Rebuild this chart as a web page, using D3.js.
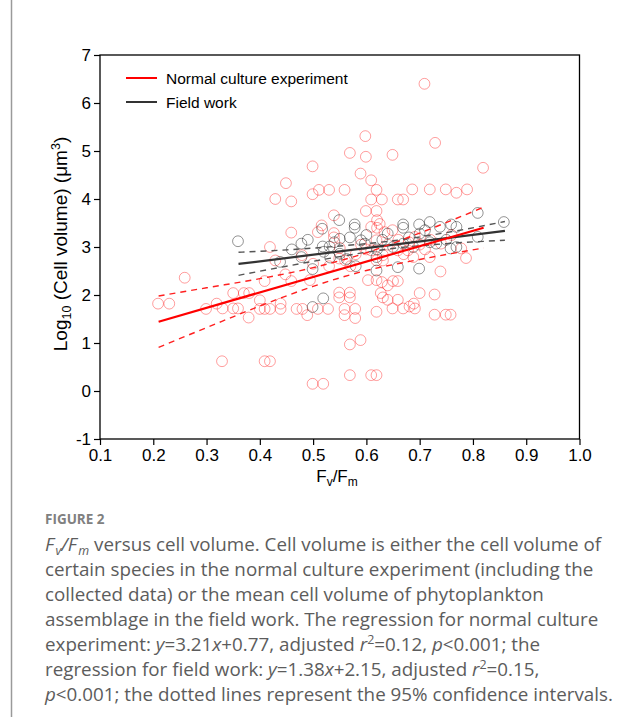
<!DOCTYPE html>
<html>
<head>
<meta charset="utf-8">
<script src="https://cdn.jsdelivr.net/npm/d3@7/dist/d3.min.js"></script>
<style>
  body { margin: 0; background: #fff; }
</style>
</head>
<body>
<div id="chart"></div>
<script>

// ########## DATA ##########

// normal culture experiment  [Fv/Fm, log10 cell volume]
var culturePoints = [
  [0.709, 6.40], [0.598, 5.31], [0.729, 5.17], [0.569, 4.96], [0.599, 4.88], [0.649, 4.92],
  [0.499, 4.68], [0.819, 4.65], [0.589, 4.53], [0.449, 4.33], [0.609, 4.39],
  [0.511, 4.19], [0.530, 4.19], [0.559, 4.19], [0.499, 4.10], [0.619, 4.19], [0.686, 4.20],
  [0.719, 4.20], [0.749, 4.20], [0.769, 4.13], [0.789, 4.20],
  [0.429, 4.00], [0.459, 3.95], [0.609, 3.99], [0.629, 3.99], [0.659, 3.99], [0.669, 3.99],
  [0.599, 3.75], [0.619, 3.75], [0.539, 3.66], [0.620, 3.56], [0.625, 3.48], [0.620, 3.40],
  [0.459, 3.30], [0.509, 3.31], [0.516, 3.45], [0.539, 3.29], [0.419, 3.00], [0.429, 2.72],
  [0.479, 2.83], [0.549, 2.76], [0.459, 2.29], [0.448, 2.43], [0.494, 2.31], [0.409, 2.29],
  [0.259, 2.36], [0.209, 1.82], [0.230, 1.82], [0.299, 1.71], [0.319, 1.82], [0.330, 1.72],
  [0.350, 2.04], [0.370, 2.04], [0.380, 2.04], [0.350, 1.72], [0.359, 1.72], [0.379, 1.53],
  [0.400, 1.89], [0.400, 1.71], [0.409, 1.71], [0.419, 1.71], [0.439, 1.82], [0.439, 1.71],
  [0.469, 1.71], [0.480, 1.71], [0.489, 1.58], [0.509, 1.71], [0.528, 1.71],
  [0.549, 2.05], [0.549, 1.95], [0.569, 2.05], [0.569, 1.95], [0.559, 1.71], [0.559, 1.58],
  [0.579, 1.71], [0.579, 1.52], [0.603, 2.31], [0.619, 2.31], [0.629, 2.27], [0.650, 2.29],
  [0.659, 2.29], [0.640, 2.20], [0.627, 2.04], [0.631, 1.95], [0.640, 1.90], [0.659, 1.90],
  [0.700, 2.04], [0.728, 2.01], [0.739, 2.49], [0.787, 2.77],
  [0.619, 1.65], [0.649, 1.72], [0.669, 1.72], [0.681, 1.76], [0.689, 1.82], [0.691, 1.72],
  [0.728, 1.59], [0.749, 1.59], [0.758, 1.59],
  [0.329, 0.62], [0.409, 0.62], [0.419, 0.62], [0.499, 0.15], [0.519, 0.15], [0.569, 0.97],
  [0.589, 1.06], [0.569, 0.33], [0.609, 0.33], [0.619, 0.33],
  [0.539, 3.20], [0.550, 2.98], [0.560, 2.72], [0.580, 2.85], [0.590, 3.05], [0.600, 2.95],
  [0.609, 2.93], [0.631, 2.83], [0.631, 2.72], [0.619, 2.72], [0.619, 3.14], [0.634, 3.31],
  [0.609, 3.42], [0.649, 3.35], [0.659, 2.93], [0.678, 2.93], [0.688, 2.79], [0.719, 2.79],
  [0.691, 3.21], [0.740, 3.07], [0.778, 2.97], [0.700, 3.05], [0.720, 3.15], [0.760, 3.25],
  [0.680, 3.10], [0.660, 3.15], [0.530, 2.60], [0.500, 2.65], [0.570, 2.60], [0.640, 3.05],
  [0.670, 2.85], [0.710, 2.95]
];

// field work
var fieldPoints = [
  [0.359, 3.12], [0.438, 2.69], [0.478, 3.07], [0.490, 3.15], [0.478, 2.79], [0.499, 2.54],
  [0.517, 3.38], [0.518, 3.01], [0.531, 3.01], [0.532, 2.78], [0.549, 3.56], [0.550, 3.17],
  [0.550, 2.86], [0.569, 3.20], [0.578, 3.47], [0.578, 3.40], [0.580, 2.60], [0.590, 3.14],
  [0.519, 1.93], [0.499, 1.75], [0.597, 3.07], [0.619, 2.51], [0.619, 2.79], [0.640, 3.28],
  [0.650, 3.00], [0.659, 2.58], [0.669, 3.47], [0.669, 3.40], [0.669, 3.07], [0.688, 3.00],
  [0.699, 3.47], [0.699, 2.55], [0.700, 3.28], [0.719, 3.52], [0.719, 3.10], [0.731, 3.07],
  [0.738, 3.42], [0.759, 3.47], [0.769, 3.42], [0.758, 2.97], [0.769, 3.00], [0.809, 3.71],
  [0.809, 3.21], [0.858, 3.52], [0.563, 2.75], [0.620, 2.95], [0.600, 3.25], [0.630, 3.15],
  [0.680, 3.20], [0.710, 3.35], [0.750, 3.15], [0.540, 3.10], [0.460, 2.95], [0.520, 2.90]
];

// regressions from the caption: [slope, intercept], drawn over the x range
var cultureFit = [3.21, 0.77];
var cultureRange = [0.21, 0.82];
var fieldFit = [1.38, 2.15];
var fieldRange = [0.36, 0.86];

// 95% confidence bands  [x, lower, upper]
var cultureBand = [
  [0.21, 0.91, 1.98], [0.30, 1.32, 2.15], [0.40, 1.77, 2.34], [0.50, 2.18, 2.57],
  [0.60, 2.51, 2.88], [0.70, 2.74, 3.29], [0.82, 2.98, 3.83]
];
var fieldBand = [
  [0.36, 2.41, 2.89], [0.45, 2.60, 2.94], [0.55, 2.80, 3.02], [0.65, 2.97, 3.13],
  [0.75, 3.07, 3.30], [0.86, 3.14, 3.53]
];

var xTicks = [0.1, 0.2, 0.3, 0.4, 0.5, 0.6, 0.7, 0.8, 0.9, 1.0];
var yTicks = [-1, 0, 1, 2, 3, 4, 5, 6, 7];

var legendItems = [
  { label: 'Normal culture experiment', color: '#ff0000' },
  { label: 'Field work', color: '#333333' }
];

// caption, one entry per line; i = italic, sub/sup = small script
var captionLines = [
  [{ t: 'F', i: 1 }, { t: 'v', i: 1, sub: 1 }, { t: '/F', i: 1 }, { t: 'm', i: 1, sub: 1 }, { t: ' versus cell volume. Cell volume is either the cell volume of' }],
  [{ t: 'certain species in the normal culture experiment (including the' }],
  [{ t: 'collected data) or the mean cell volume of phytoplankton' }],
  [{ t: 'assemblage in the field work. The regression for normal culture' }],
  [{ t: 'experiment: ' }, { t: 'y', i: 1 }, { t: '=3.21' }, { t: 'x', i: 1 }, { t: '+0.77, adjusted ' }, { t: 'r', i: 1 }, { t: '2', sup: 1 }, { t: '=0.12, ' }, { t: 'p', i: 1 }, { t: '<0.001; the' }],
  [{ t: 'regression for field work: ' }, { t: 'y', i: 1 }, { t: '=1.38' }, { t: 'x', i: 1 }, { t: '+2.15, adjusted ' }, { t: 'r', i: 1 }, { t: '2', sup: 1 }, { t: '=0.15,' }],
  [{ t: 'p', i: 1 }, { t: '<0.001; the dotted lines represent the 95% confidence intervals.' }]
];


function getChart() {
  var attrs = {
    svgWidth: 623,
    svgHeight: 717,
    plotLeft: 100,
    plotRight: 579.5,
    plotTop: 55,
    plotBottom: 439,
    radius: 5.4,
    chartFont: '"Liberation Sans", Arial, sans-serif',
    captionFont: '"Open Sans", Lato, sans-serif'
  };

  var svg = d3.select('#chart')
    .append('svg')
    .attr('width', attrs.svgWidth)
    .attr('height', attrs.svgHeight);

  // side rule of the figure box
  svg.append('line')
    .attr('x1', 11.5).attr('x2', 11.5)
    .attr('y1', 0).attr('y2', attrs.svgHeight)
    .attr('stroke', '#9a9a9a')
    .attr('stroke-width', 1.5);

  // ########## SCALES ##########
  var x = d3.scaleLinear()
    .domain([0.1, 1.0])
    .range([attrs.plotLeft, attrs.plotRight]);

  var y = d3.scaleLinear()
    .domain([-1, 7])
    .range([attrs.plotBottom, attrs.plotTop]);

  var chart = svg.append('g').attr('font-family', attrs.chartFont);

  // ########## AXES ##########
  var xAxis = chart.append('g')
    .attr('transform', 'translate(0,' + attrs.plotBottom + ')')
    .call(d3.axisBottom(x).tickValues(xTicks).tickFormat(d3.format('.1f')).tickSize(6).tickSizeOuter(0).tickPadding(4));

  var yAxis = chart.append('g')
    .attr('transform', 'translate(' + attrs.plotLeft + ',0)')
    .call(d3.axisLeft(y).tickValues(yTicks).tickFormat(function (d) { return String(d); }).tickSize(6).tickSizeOuter(0).tickPadding(3));

  [xAxis, yAxis].forEach(function (ax) {
    ax.attr('font-family', attrs.chartFont).attr('font-size', 17);
    ax.select('.domain').remove();
    ax.selectAll('line').attr('stroke', '#000').attr('stroke-width', 1.2);
    ax.selectAll('text').attr('fill', '#000');
  });

  chart.append('rect')
    .attr('x', attrs.plotLeft)
    .attr('y', attrs.plotTop)
    .attr('width', attrs.plotRight - attrs.plotLeft)
    .attr('height', attrs.plotBottom - attrs.plotTop)
    .attr('fill', 'none')
    .attr('stroke', '#000')
    .attr('stroke-width', 1.3);

  // ########## POINTS ##########
  chart.append('g').selectAll('circle')
    .data(culturePoints)
    .enter()
    .append('circle')
    .attr('cx', d => x(d[0]))
    .attr('cy', d => y(d[1]))
    .attr('r', attrs.radius)
    .attr('fill', 'none')
    .attr('stroke', '#ff0000')
    .attr('stroke-opacity', 0.38)
    .attr('stroke-width', 1);

  chart.append('g').selectAll('circle')
    .data(fieldPoints)
    .enter()
    .append('circle')
    .attr('cx', d => x(d[0]))
    .attr('cy', d => y(d[1]))
    .attr('r', attrs.radius)
    .attr('fill', 'none')
    .attr('stroke', '#000')
    .attr('stroke-opacity', 0.42)
    .attr('stroke-width', 1);

  // ########## REGRESSIONS ##########
  var bandLine = function (idx) {
    return d3.line()
      .x(d => x(d[0]))
      .y(d => y(d[idx]))
      .curve(d3.curveMonotoneX);
  };

  function drawFit(fit, range, band, color, dashColor) {
    chart.append('line')
      .attr('x1', x(range[0])).attr('y1', y(fit[0] * range[0] + fit[1]))
      .attr('x2', x(range[1])).attr('y2', y(fit[0] * range[1] + fit[1]))
      .attr('stroke', color)
      .attr('stroke-width', 2.2);

    [1, 2].forEach(function (idx) {
      chart.append('path')
        .datum(band)
        .attr('d', bandLine(idx))
        .attr('fill', 'none')
        .attr('stroke', dashColor)
        .attr('stroke-width', 1.4)
        .attr('stroke-dasharray', '6,5');
    });
  }

  drawFit(fieldFit, fieldRange, fieldBand, '#333333', '#555555');
  drawFit(cultureFit, cultureRange, cultureBand, '#ff0000', '#ff2020');

  // ########## LEGEND ##########
  var legend = chart.append('g').selectAll('g')
    .data(legendItems)
    .enter()
    .append('g')
    .attr('transform', (d, i) => 'translate(126,' + (78 + i * 24) + ')');

  legend.append('line')
    .attr('x1', 0).attr('x2', 31)
    .attr('stroke', d => d.color)
    .attr('stroke-width', 2);

  legend.append('text')
    .attr('x', 40)
    .attr('y', 5.5)
    .attr('font-size', 15.5)
    .text(d => d.label);

  // ########## AXIS TITLES ##########
  var xTitle = chart.append('text')
    .attr('x', 337)
    .attr('y', 482)
    .attr('text-anchor', 'middle')
    .attr('font-size', 17);
  xTitle.append('tspan').text('F');
  xTitle.append('tspan').attr('font-size', 12).attr('dy', 4).text('v');
  xTitle.append('tspan').attr('dy', -4).text('/F');
  xTitle.append('tspan').attr('font-size', 12).attr('dy', 4).text('m');

  var yTitle = chart.append('text')
    .attr('transform', 'translate(67,244) rotate(-90)')
    .attr('text-anchor', 'middle')
    .attr('font-size', 19);
  yTitle.append('tspan').text('Log');
  yTitle.append('tspan').attr('font-size', 12.5).attr('dy', 4).text('10');
  yTitle.append('tspan').attr('dy', -4).text(' (Cell volume) (\u03bcm');
  yTitle.append('tspan').attr('font-size', 12.5).attr('dy', -7).text('3');
  yTitle.append('tspan').attr('dy', 7).text(')');

  // ########## CAPTION ##########
  svg.append('text')
    .attr('x', 45)
    .attr('y', 524)
    .attr('font-family', attrs.captionFont)
    .attr('font-size', 13.5)
    .attr('font-weight', 'bold')
    .attr('fill', '#808080')
    .text('FIGURE 2');

  var caption = svg.append('g')
    .attr('font-family', attrs.captionFont)
    .attr('font-size', 18.8)
    .attr('fill', '#5c5c5c');

  captionLines.forEach(function (segs, li) {
    var t = caption.append('text')
      .attr('x', 45)
      .attr('y', 551 + li * 25);
    var shift = 0;
    segs.forEach(function (s) {
      var target = s.sub ? 4 : (s.sup ? -7 : 0);
      t.append('tspan')
        .attr('dx', s.sub ? 1.5 : null)
        .attr('dy', target - shift)
        .attr('font-style', s.i ? 'italic' : null)
        .attr('font-size', (s.sub || s.sup) ? 12.5 : null)
        .text(s.t);
      shift = target;
    });
  });
}

getChart();
</script>
</body>
</html>
